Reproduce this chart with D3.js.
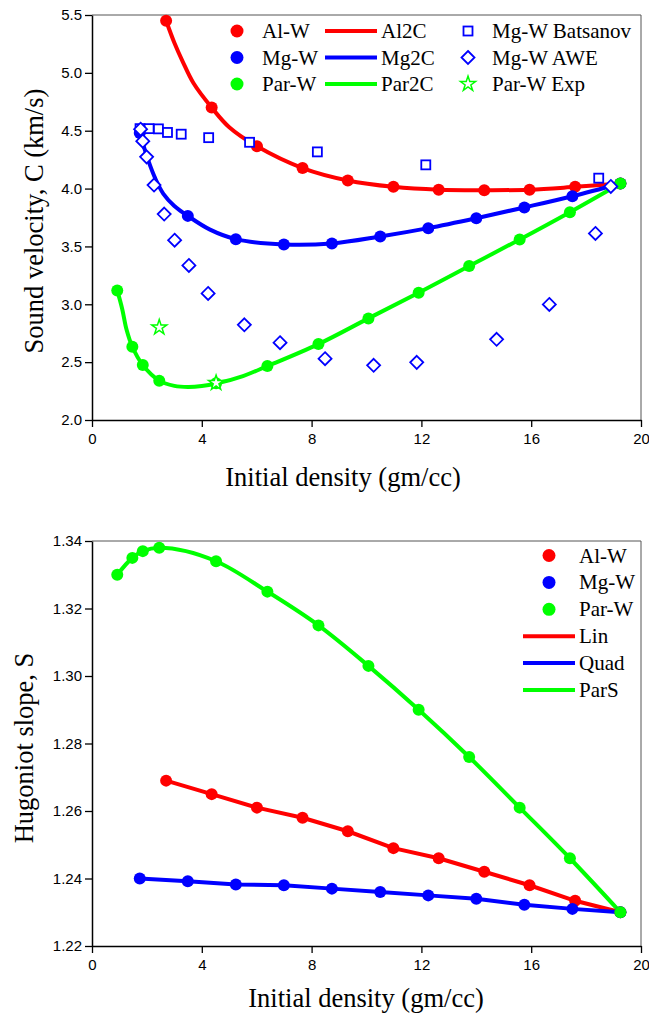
<!DOCTYPE html>
<html>
<head>
<meta charset="utf-8">
<script src="https://cdn.jsdelivr.net/npm/d3@7"></script>
<style>
  body { margin: 0; background: #fff; }
  .tick text { font-family: "Liberation Sans", Arial, sans-serif; font-size: 15px; fill: #000; }
  .title { font-family: "Liberation Serif", "Times New Roman", serif; font-size: 26.5px; fill: #000; }
  .leg { font-family: "Liberation Serif", "Times New Roman", serif; font-size: 21px; fill: #000; }
</style>
</head>
<body>
<div id="chart"></div>
<script>
// densities (gm/cc)
const alX = [2.7, 4.36, 6.01, 7.67, 9.32, 10.98, 12.63, 14.29, 15.94, 17.6, 19.25];
const mgX = [1.74, 3.49, 5.24, 6.99, 8.74, 10.5, 12.25, 14.0, 15.75, 17.5, 19.25];
const parX = [0.92, 1.47, 1.85, 2.45, 4.52, 6.39, 8.25, 10.07, 11.9, 13.74, 15.58, 17.41, 19.25];

// sound velocity C (km/s)
const alC = [5.45, 4.70, 4.365, 4.177, 4.07, 4.015, 3.99, 3.986, 3.99, 4.015, 4.044];
const mgC = [4.48, 3.764, 3.563, 3.517, 3.526, 3.586, 3.658, 3.744, 3.837, 3.934, 4.044];
const parC = [3.12, 2.633, 2.475, 2.34, 2.317, 2.466, 2.656, 2.878, 3.10, 3.33, 3.56, 3.796, 4.044];

// fitted curves
const al2cX = [2.7, 3.0, 3.3, 3.7, 4.36, 5.0, 6.01, 7.67, 9.32, 10.98, 12.63, 14.29, 15.94, 17.6, 19.25];
const al2cC = [5.45, 5.26, 5.10, 4.91, 4.70, 4.53, 4.365, 4.177, 4.07, 4.015, 3.99, 3.986, 3.99, 4.015, 4.044];
const mg2cX = [1.74, 2.05, 2.3, 2.6, 3.0, 3.49, 4.3, 5.24, 6.99, 8.74, 10.5, 12.25, 14.0, 15.75, 17.5, 19.25];
const mg2cC = [4.48, 4.243, 4.09, 3.955, 3.85, 3.764, 3.645, 3.563, 3.517, 3.526, 3.586, 3.658, 3.744, 3.837, 3.934, 4.044];
const par2cX = [0.92, 1.1, 1.26, 1.47, 1.85, 2.45, 3.0, 3.5, 4.0, 4.52, 5.5, 6.39, 8.25, 10.07, 11.9, 13.74, 15.58, 17.41, 19.25];
const par2cC = [3.12, 2.96, 2.78, 2.633, 2.475, 2.34, 2.295, 2.285, 2.293, 2.315, 2.38, 2.466, 2.656, 2.878, 3.10, 3.33, 3.56, 3.796, 4.044];

// reference data for Mg-W and Par-W
const batX = [1.75, 2.08, 2.42, 2.75, 3.25, 4.25, 5.74, 8.21, 12.16, 18.46];
const batC = [4.518, 4.518, 4.516, 4.485, 4.47, 4.44, 4.40, 4.317, 4.205, 4.09];
const aweX = [1.77, 1.85, 1.99, 2.26, 2.63, 3.01, 3.53, 4.23, 5.55, 6.85, 8.49, 10.26, 11.83, 14.74, 16.66, 18.34, 18.9];
const aweC = [4.513, 4.41, 4.274, 4.03, 3.78, 3.554, 3.336, 3.094, 2.823, 2.668, 2.53, 2.473, 2.498, 2.697, 2.999, 3.612, 4.018];
const expX = [2.45, 4.52];
const expC = [2.80, 2.32];

// Hugoniot slope S
const alS = [1.269, 1.265, 1.261, 1.258, 1.254, 1.249, 1.246, 1.242, 1.238, 1.2334, 1.230];
const mgS = [1.240, 1.2392, 1.2382, 1.238, 1.237, 1.236, 1.235, 1.234, 1.2322, 1.231, 1.230];
const parS = [1.330, 1.335, 1.337, 1.338, 1.334, 1.325, 1.315, 1.303, 1.290, 1.276, 1.261, 1.246, 1.230];

const xTicks = [0, 4, 8, 12, 16, 20];
const cTicks = [2.0, 2.5, 3.0, 3.5, 4.0, 4.5, 5.0, 5.5];
const sTicks = [1.22, 1.24, 1.26, 1.28, 1.30, 1.32, 1.34];

const RED = "#ff0000", BLUE = "#0000ff", GREEN = "#00ff00";

const svg = d3.select("#chart").append("svg")
    .attr("width", 649)
    .attr("height", 1015);

const x = d3.scaleLinear().domain([0, 20]).range([92, 641]);
const yC = d3.scaleLinear().domain([2, 5.5]).range([420, 15]);
const yS = d3.scaleLinear().domain([1.22, 1.34]).range([946, 541]);

const zip = (xs, ys) => xs.map((v, i) => [v, ys[i]]);

function frame(y, ticks, fmt, minorStep) {
  const [y0, y1] = y.domain();
  const top = y.range()[1], bot = y.range()[0];
  // grey top/right border
  svg.append("path")
      .attr("d", `M92,${top}H641V${bot}`)
      .attr("fill", "none").attr("stroke", "#555").attr("stroke-width", 1);

  const minorX = d3.range(2, 20, 4);
  const minorY = d3.range(y0 + minorStep, y1, minorStep * 2);

  const gx = svg.append("g").attr("transform", `translate(0,${bot})`);
  gx.call(d3.axisBottom(x).tickValues(minorX).tickSize(4).tickFormat("").tickSizeOuter(0));
  gx.call(d3.axisBottom(x).tickValues(xTicks).tickSize(7).tickPadding(6).tickFormat(d3.format("d")).tickSizeOuter(0));

  const gy = svg.append("g").attr("transform", "translate(92,0)");
  gy.call(d3.axisLeft(y).tickValues(minorY).tickSize(4).tickFormat("").tickSizeOuter(0));
  gy.call(d3.axisLeft(y).tickValues(ticks).tickSize(7).tickPadding(3).tickFormat(d3.format(fmt)).tickSizeOuter(0));

  svg.selectAll(".domain").attr("stroke", "#000").attr("stroke-width", 1.5);
  svg.selectAll(".tick line").attr("stroke", "#000").attr("stroke-width", 1.3);
}

function curve(pts, y, color, c) {
  svg.append("path")
      .datum(pts)
      .attr("fill", "none")
      .attr("stroke", color)
      .attr("stroke-width", 4)
      .attr("stroke-linejoin", "round")
      .attr("d", d3.line().x(d => x(d[0])).y(d => y(d[1])).curve(c || d3.curveCatmullRom));
}

function dots(pts, y, color) {
  svg.append("g").selectAll("circle")
      .data(pts).enter().append("circle")
      .attr("cx", d => x(d[0]))
      .attr("cy", d => y(d[1]))
      .attr("r", 6)
      .attr("fill", color);
}

const diamond = (cx, cy, r) => `M${cx},${cy - r}L${cx + r},${cy}L${cx},${cy + r}L${cx - r},${cy}Z`;
const star = d3.symbol().type(d3.symbolStar).size(70);

// ---- top chart: sound velocity ----
frame(yC, cTicks, ".1f", 0.25);

curve(zip(al2cX, al2cC), yC, RED);
curve(zip(mg2cX, mg2cC), yC, BLUE);
curve(zip(par2cX, par2cC), yC, GREEN);
dots(zip(alX, alC), yC, RED);
dots(zip(mgX, mgC), yC, BLUE);
dots(zip(parX, parC), yC, GREEN);

svg.append("g").selectAll("rect")
    .data(zip(batX, batC)).enter().append("rect")
    .attr("x", d => x(d[0]) - 4.5)
    .attr("y", d => yC(d[1]) - 4.5)
    .attr("width", 9).attr("height", 9)
    .attr("fill", "#fff").attr("stroke", BLUE).attr("stroke-width", 1.8);

svg.append("g").selectAll("path")
    .data(zip(aweX, aweC)).enter().append("path")
    .attr("d", d => diamond(x(d[0]), yC(d[1]), 6.5))
    .attr("fill", "#fff").attr("stroke", BLUE).attr("stroke-width", 1.8);

svg.append("g").selectAll("path")
    .data(zip(expX, expC)).enter().append("path")
    .attr("transform", d => `translate(${x(d[0])},${yC(d[1])})`)
    .attr("d", star)
    .attr("fill", "#fff").attr("stroke", GREEN).attr("stroke-width", 1.5);

// legend (top)
const legTop = [
  {col: 0, row: 0, kind: "dot", color: RED, label: "Al-W"},
  {col: 0, row: 1, kind: "dot", color: BLUE, label: "Mg-W"},
  {col: 0, row: 2, kind: "dot", color: GREEN, label: "Par-W"},
  {col: 1, row: 0, kind: "line", color: RED, label: "Al2C"},
  {col: 1, row: 1, kind: "line", color: BLUE, label: "Mg2C"},
  {col: 1, row: 2, kind: "line", color: GREEN, label: "Par2C"},
  {col: 2, row: 0, kind: "square", color: BLUE, label: "Mg-W Batsanov"},
  {col: 2, row: 1, kind: "diamond", color: BLUE, label: "Mg-W AWE"},
  {col: 2, row: 2, kind: "star", color: GREEN, label: "Par-W Exp"}
];
const colMark = [237, 351, 468], colText = [262, 381, 492];

function legendItem(d, mx, tx, cy) {
  const g = svg.append("g");
  if (d.kind === "dot") g.append("circle").attr("cx", mx).attr("cy", cy).attr("r", 6.5).attr("fill", d.color);
  if (d.kind === "line") g.append("line").attr("x1", mx - 26).attr("x2", mx + 26).attr("y1", cy).attr("y2", cy)
      .attr("stroke", d.color).attr("stroke-width", 4);
  if (d.kind === "square") g.append("rect").attr("x", mx - 4.5).attr("y", cy - 4.5).attr("width", 9).attr("height", 9)
      .attr("fill", "#fff").attr("stroke", d.color).attr("stroke-width", 1.8);
  if (d.kind === "diamond") g.append("path").attr("d", diamond(mx, cy, 6.5))
      .attr("fill", "#fff").attr("stroke", d.color).attr("stroke-width", 1.8);
  if (d.kind === "star") g.append("path").attr("transform", `translate(${mx},${cy})`).attr("d", star)
      .attr("fill", "#fff").attr("stroke", d.color).attr("stroke-width", 1.5);
  g.append("text").attr("class", "leg").attr("x", tx).attr("y", cy + 7).text(d.label);
}
legTop.forEach(d => legendItem(d, colMark[d.col], colText[d.col], 31 + d.row * 26.5));

svg.append("text").attr("class", "title")
    .attr("x", 343).attr("y", 486).attr("text-anchor", "middle")
    .text("Initial density (gm/cc)");
svg.append("text").attr("class", "title")
    .attr("transform", "translate(43,221) rotate(-90)").attr("text-anchor", "middle")
    .text("Sound velocity, C (km/s)");

// ---- bottom chart: Hugoniot slope ----
frame(yS, sTicks, ".2f", 0.01);

curve(zip(alX, alS), yS, RED, d3.curveLinear);
curve(zip(mgX, mgS), yS, BLUE, d3.curveLinear);
curve(zip(parX, parS), yS, GREEN, d3.curveMonotoneX);
dots(zip(alX, alS), yS, RED);
dots(zip(mgX, mgS), yS, BLUE);
dots(zip(parX, parS), yS, GREEN);

const legBot = [
  {kind: "dot", color: RED, label: "Al-W"},
  {kind: "dot", color: BLUE, label: "Mg-W"},
  {kind: "dot", color: GREEN, label: "Par-W"},
  {kind: "line", color: RED, label: "Lin"},
  {kind: "line", color: BLUE, label: "Quad"},
  {kind: "line", color: GREEN, label: "ParS"}
];
legBot.forEach((d, i) => legendItem(d, d.kind === "dot" ? 549 : 549, 579, 555.5 + i * 26.9));

svg.append("text").attr("class", "title")
    .attr("x", 366).attr("y", 1007).attr("text-anchor", "middle")
    .text("Initial density (gm/cc)");
svg.append("text").attr("class", "title")
    .attr("transform", "translate(33,748) rotate(-90)").attr("text-anchor", "middle")
    .text("Hugoniot slope, S");
</script>
</body>
</html>
